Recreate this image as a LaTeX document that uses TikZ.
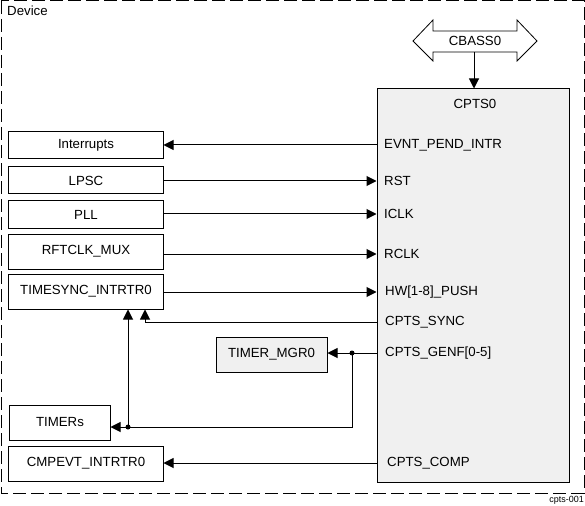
\documentclass[tikz,border=0pt]{standalone}
\usepackage{fontspec}
\setmainfont{Liberation Sans}
\usetikzlibrary{arrows.meta}
\begin{document}
\begin{tikzpicture}[x=1bp,y=-1bp,
  font=\fontsize{13.3}{15}\selectfont,
  blk/.style={draw,line width=1bp,minimum width=154bp,minimum height=27bp,inner sep=0pt},
  gblk/.style={blk,fill=black!6},
  pin/.style={anchor=west,inner sep=0pt},
  arr/.style={line width=1bp,-{Triangle[length=10bp,width=10bp]}},
  ln/.style={line width=1bp},
  dot/.style={circle,fill,inner sep=0pt,minimum size=5bp}]
\useasboundingbox (0,0) rectangle (585,506);
% device frame
\draw[line width=1bp,dash pattern=on 13bp off 5bp] (1,1) rectangle (584,493);
\node[anchor=north west,inner sep=0pt] (dev) at (7,6) {Device};
\node[anchor=south east,inner sep=0pt,font=\fontsize{9}{10}\selectfont] (fig) at (584,505) {cpts-001};
% CPTS0
\node[gblk,minimum width=192bp,minimum height=393bp] (cpts) at (473,285.5) {};
\node[inner sep=0pt] (cptst) at (475,104) {CPTS0};
% CBASS0
\node[inner sep=0pt] (cbass) at (475,41) {CBASS0};
\draw[line width=0.8bp] (413,41) -- (433,20) -- (433,31) -- (517,31) -- (517,20) -- (537,41)
  -- (517,61) -- (517,52) -- (433,52) -- (433,61) -- cycle;
\coordinate (cb) at (474,52);
\draw[arr] (cb) -- (cb |- cpts.north);
% pins
\node[pin] (p1) at (384,145) {EVNT\_PEND\_INTR};
\node[pin] (p2) at (384,181) {RST};
\node[pin] (p3) at (384,214) {ICLK};
\node[pin] (p4) at (384,254) {RCLK};
\node[pin] (p5) at (385,292) {HW[1-8]\_PUSH};
\node[pin] (p6) at (385,322) {CPTS\_SYNC};
\node[pin] (p7) at (385,353) {CPTS\_GENF[0-5]};
\node[pin] (p8) at (387,463) {CPTS\_COMP};
% left blocks
\node[blk] (int) at (86,145.5) {Interrupts};
\node[blk] (lpsc) at (86,180.5) {LPSC};
\node[blk] (pll) at (86,214.5) {PLL};
\node[blk,minimum height=35bp] (rft) at (86,251.5) {RFTCLK\_MUX};
\node[blk,minimum height=35bp] (tsr) at (86,291.5) {TIMESYNC\_INTRTR0};
\node[blk,minimum width=100bp,minimum height=35bp] (tim) at (60,422.5) {TIMERs};
\node[blk,minimum height=35bp] (cmp) at (86,463.5) {CMPEVT\_INTRTR0};
\node[gblk,minimum width=111bp,minimum height=35bp] (mgr) at (271.5,354.5) {TIMER\_MGR0};
% connectors
\draw[arr] (cpts.west |- p1) -- (int.east |- p1);
\draw[arr] (lpsc.east |- p2) -- (cpts.west |- p2);
\draw[arr] (pll.east |- p3) -- (cpts.west |- p3);
\draw[arr] (rft.east |- p4) -- (cpts.west |- p4);
\draw[arr] (tsr.east |- p5) -- (cpts.west |- p5);
\coordinate (sy) at (145,322);
\draw[arr] (cpts.west |- p6) -- (sy) -- (sy |- tsr.south);
\coordinate (gj) at (352,353);
\coordinate (tj) at (128,427);
\draw[arr] (cpts.west |- p7) -- (mgr.east |- p7);
\draw[ln] (gj) -- (gj |- tj) -- (tj);
\draw[arr] (tj) -- (tim.east |- tj);
\draw[arr] (tj) -- (tj |- tsr.south);
\node[dot] (d1) at (gj) {};
\node[dot] (d2) at (tj) {};
\draw[arr] (cpts.west |- p8) -- (cmp.east |- p8);
\end{tikzpicture}
\end{document}
